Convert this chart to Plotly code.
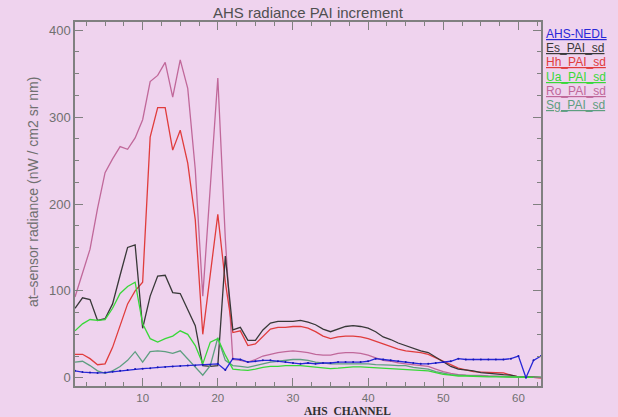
import plotly.graph_objects as go

channels = list(range(1, 64))

ahs_nedl = [8, 6.5, 6, 5.5, 6, 7, 8, 9, 10, 10.5, 11, 12, 12.5, 13, 13.5, 14, 14, 15, 15, 16,
            9, 22, 21, 18, 19, 20, 20, 19, 18, 17, 16, 17, 16, 17, 17, 18, 18, 18, 18, 19,
            22, 21, 20, 19, 18, 17, 16, 16, 17, 18, 19, 22, 21, 21, 21, 21, 21, 21, 22, 25,
            0, 20, 25]
es_pai = [80, 92, 90, 66, 68, 85, 118, 150, 153, 57, 94, 117, 118, 98, 97, 79, 60, 14, 13, 14,
          140, 55, 58, 43, 43, 55, 63, 65, 65, 65, 66, 64, 61, 56, 53, 56, 59, 60, 59, 57,
          53, 47, 44, 40, 37, 34, 31, 29, 24, 18, 13, 10, 9, 8, 6, 5, 4, 3.5, 3, 1,
          1, 1, 0.5]
hh_pai = [27, 27, 22, 15, 16, 35, 60, 85, 100, 110, 277, 311, 311, 262, 285, 247, 182, 50, 119, 188,
          110, 52, 54, 37, 39, 48, 56, 58, 58, 59, 59, 57, 53, 48, 45, 47, 48, 48, 47, 45,
          42, 39, 36, 33, 31, 30, 29, 27, 23, 19, 15, 11, 9, 7, 6.5, 6, 6, 5.5, 3, 1,
          1, 0.5, 0]
ua_pai = [54, 62, 67, 66, 67, 80, 97, 105, 110, 62, 45, 41, 45, 48, 54, 50, 37, 16, 41, 45,
          26, 10, 9, 8.5, 10, 12, 13, 13, 14, 14, 14, 13, 12, 11, 10.5, 11, 12, 12.5, 12.5, 12,
          11.5, 11, 10.5, 10, 10, 9, 8.5, 8, 6, 4, 3, 2, 2, 1.5, 1.5, 1, 1, 1, 1, 1,
          0.5, 0.5, 0.5]
ro_pai = [93, 120, 148, 195, 236, 252, 266, 263, 276, 297, 341, 348, 363, 323, 366, 333, 240, 94, 220, 345,
          160, 21, 20, 18, 21, 25, 27, 29, 30, 31, 30, 29, 27, 26, 26, 28, 29, 29, 28, 26,
          23, 20, 19, 17, 16, 15, 14, 13, 10, 7, 5, 3.5, 3, 3, 2.6, 2, 2, 1.5, 1, 1,
          0.5, 0.5, 0]
sg_pai = [18, 19, 14, 8, 5, 8, 13, 20, 30, 18, 30, 31, 30, 28, 31, 22, 12, 3, 14, 46,
          20, 14, 13, 12, 14, 16, 18, 19, 20, 21, 21, 20, 18, 17, 16, 16, 16, 16, 16, 16,
          15, 15, 14.5, 14, 14, 12, 11, 10, 7, 5, 3.5, 3, 2.5, 2, 2, 1.5, 1.5, 1, 1, 1,
          0.5, 0.5, 0.5]

series_names = ["AHS-NEDL", "Es_PAI_sd", "Hh_PAI_sd", "Ua_PAI_sd", "Ro_PAI_sd", "Sg_PAI_sd"]
series_vals = [ahs_nedl, es_pai, hh_pai, ua_pai, ro_pai, sg_pai]
colors = ["#2828D8", "#383838", "#E03C3C", "#38D838", "#C0689A", "#5E9E80"]

BG = "#EFD3EE"
AX = "#808080"

fig = go.Figure()
order = [4, 2, 1, 5, 3, 0]
for i in order:
    if i == 0:
        kw = dict(mode="lines+markers", marker=dict(size=2, color="#1818B0"))
    else:
        kw = dict(mode="lines")
    fig.add_trace(go.Scatter(x=channels, y=series_vals[i], name=series_names[i],
                             line=dict(color=colors[i], width=1.3), showlegend=False, **kw))

L, R, T, B = 75, 541, 22, 386
W, H = 618, 417
pw, ph = R - L, B - T

fig.update_layout(
    width=W, height=H, autosize=False,
    margin=dict(l=L, r=W - R, t=T, b=H - B, pad=0),
    paper_bgcolor=BG, plot_bgcolor=BG,
    font=dict(family="Liberation Sans, Arial", size=12, color="#707070"),
)
fig.update_xaxes(range=[1, 63], tick0=0, dtick=10, ticks="inside", ticklen=8, tickwidth=1.2,
                 tickcolor=AX, showgrid=False, zeroline=False, showline=True, linecolor=AX,
                 linewidth=1.5, mirror="ticks",
                 minor=dict(dtick=2.5, tick0=0, ticks="inside", ticklen=4, tickwidth=1.2,
                            tickcolor=AX, showgrid=False),
                 tickfont=dict(size=11.5, color="#707070"))
fig.update_yaxes(range=[-9.5, 409.5], tick0=0, dtick=100, ticks="inside", ticklen=8, tickwidth=1.2,
                 tickcolor=AX, showgrid=False, zeroline=False, showline=True, linecolor=AX,
                 linewidth=1.5, mirror="ticks",
                 minor=dict(dtick=25, tick0=0, ticks="inside", ticklen=4, tickwidth=1.2,
                            tickcolor=AX, showgrid=False),
                 tickfont=dict(size=13, color="#707070"))

ann = []
ann.append(dict(text="AHS radiance PAI increment", x=0.5, y=1 + (T - 12) / ph, xref="paper", yref="paper",
                showarrow=False, font=dict(size=15, color="#505050"), xanchor="center", yanchor="middle"))
ann.append(dict(text="<b>AHS  CHANNEL</b>", x=(347 - L) / pw, y=-(411 - B) / ph, xref="paper", yref="paper",
                showarrow=False, font=dict(size=11.5, color="#303030", family="Liberation Serif"),
                xanchor="center", yanchor="middle"))
ann.append(dict(text="at\u2013sensor radiance (nW / cm2 sr nm)", x=-(L - 33) / pw, y=(B - 192) / ph,
                xref="paper", yref="paper", textangle=-90, showarrow=False,
                font=dict(size=14, color="#707070"), xanchor="center", yanchor="middle"))
leg_y = [34, 48, 62, 77, 91, 105]
for name, c, yy in zip(series_names, colors, leg_y):
    ann.append(dict(text="<u>" + name + "</u>", x=1 + (544 - R) / pw, y=(B - yy) / ph,
                    xref="paper", yref="paper", showarrow=False, xanchor="left", yanchor="middle",
                    font=dict(size=12, color=c)))
fig.update_layout(annotations=ann)

fig.write_html("out.html")
